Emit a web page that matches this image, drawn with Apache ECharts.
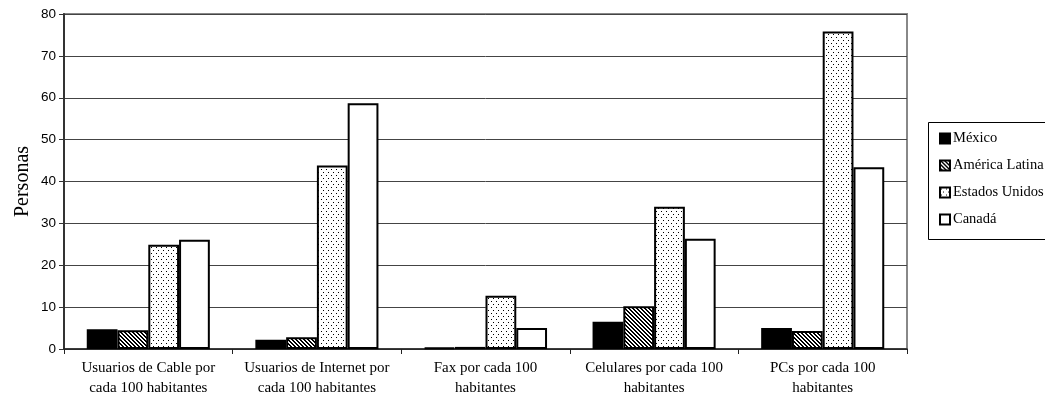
<!DOCTYPE html>
<html>
<head>
<meta charset="utf-8">
<script src="https://cdn.jsdelivr.net/npm/echarts@6/dist/echarts.min.js"></script>
<style>html,body{margin:0;padding:0;background:#fff}#c{width:1045px;height:404px}</style>
</head>
<body>
<div id="c"></div>
<script>
var categories = ['Usuarios de Cable por\ncada 100 habitantes', 'Usuarios de Internet por\ncada 100 habitantes', 'Fax por cada 100\nhabitantes', 'Celulares por cada 100\nhabitantes', 'PCs por cada 100\nhabitantes'];
var seriesNames = ['México', 'América Latina', 'Estados Unidos', 'Canadá'];
var mexico = [4.7, 2.2, 0.3, 6.5, 5.0];
var americaLatina = [4.5, 2.8, 0.5, 10.2, 4.3];
var estadosUnidos = [24.9, 43.8, 12.7, 34.0, 75.8];
var canada = [26.1, 58.7, 5.0, 26.3, 43.4];
var yTicks = [0, 10, 20, 30, 40, 50, 60, 70, 80];

function hatch() {
  var c = document.createElement('canvas'); c.width = 4; c.height = 4;
  var x = c.getContext('2d');
  x.fillStyle = '#fff'; x.fillRect(0, 0, 4, 4);
  x.fillStyle = '#000';
  for (var i = 0; i < 4; i++) { x.fillRect(i, i, 1, 1); x.fillRect((i + 1) % 4, i, 1, 1); }
  return c;
}
function dots() {
  var c = document.createElement('canvas'); c.width = 5; c.height = 6;
  var x = c.getContext('2d');
  x.fillStyle = '#fff'; x.fillRect(0, 0, 5, 6);
  x.fillStyle = '#000';
  x.fillRect(1, 1, 1, 1);
  x.fillRect(3, 4, 1, 1);
  return c;
}
var fills = ['#000', {image: hatch(), repeat: 'repeat'}, {image: dots(), repeat: 'repeat'}, '#fff'];
var datas = [mexico, americaLatina, estadosUnidos, canada];

var chart = echarts.init(document.getElementById('c'), null, {renderer: 'canvas'});
chart.setOption({
  animation: false,
  backgroundColor: '#fff',
  grid: {left: 64, right: 138, top: 14, bottom: 55, show: true, borderColor: '#888', borderWidth: 2, backgroundColor: 'transparent'},
  graphic: [{type: 'rect', shape: {x: 928.5, y: 122.5, width: 200, height: 117}, style: {fill: '#fff', stroke: '#000', lineWidth: 1}, z: 0}],
  legend: {
    orient: 'vertical', left: 934, top: 126, itemWidth: 10, itemHeight: 10, itemGap: 12,
    icon: 'rect', data: seriesNames,
    textStyle: {fontFamily: 'Liberation Serif', fontSize: 14.5, color: '#000', padding: [0, 0, 0, -2]},
    z: 5
  },
  xAxis: {
    type: 'category', data: categories,
    axisLine: {lineStyle: {color: '#222', width: 1.5}},
    axisTick: {show: true, length: 5, lineStyle: {color: '#222'}},
    axisLabel: {fontFamily: 'Liberation Serif', fontSize: 15, color: '#000', lineHeight: 20, margin: 9, interval: 0}
  },
  yAxis: {
    type: 'value', min: 0, max: 80, interval: 10,
    name: 'Personas', nameLocation: 'middle', nameRotate: 90, nameGap: 31, nameMoveOverlap: false,
    nameTextStyle: {fontFamily: 'Liberation Serif', fontSize: 20, color: '#000'},
    axisLine: {show: true, lineStyle: {color: '#333', width: 2}},
    axisTick: {show: true, length: 5, lineStyle: {color: '#333'}},
    axisLabel: {fontFamily: 'Liberation Sans', fontSize: 13.5, color: '#000', margin: 8,
      formatter: function (v) { return yTicks.indexOf(v) >= 0 ? String(v) : ''; }},
    splitLine: {lineStyle: {color: '#444', width: 1}}
  },
  series: seriesNames.map(function (n, i) {
    return {
      name: n, type: 'bar', data: datas[i],
      barGap: '0%', barCategoryGap: '27%',
      itemStyle: {color: fills[i], borderColor: '#000', borderWidth: 2}
    };
  })
});
</script>
</body>
</html>
